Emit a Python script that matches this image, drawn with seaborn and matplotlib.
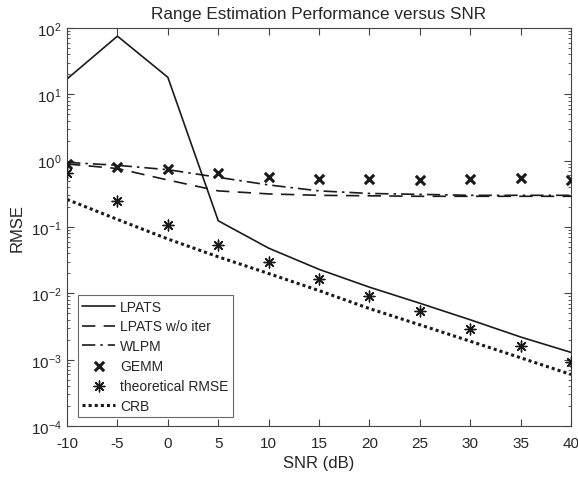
import numpy as np
import pandas as pd
import matplotlib
matplotlib.use("Agg")
import matplotlib.pyplot as plt
import seaborn as sns
from matplotlib.ticker import LogLocator, NullFormatter

# datos
snr = [-10, -5, 0, 5, 10, 15, 20, 25, 30, 35, 40]
lpats = [17, 75, 18, 0.124, 0.048, 0.023, 0.0124, 0.0071, 0.0040, 0.0022, 0.00129]
lpats_wo = [0.89, 0.76, 0.51, 0.35, 0.315, 0.30, 0.295, 0.29, 0.29, 0.29, 0.29]
wlpm = [0.94, 0.85, 0.73, 0.56, 0.43, 0.35, 0.32, 0.31, 0.30, 0.30, 0.30]
gemm = [0.89, 0.79, 0.76, 0.66, 0.57, 0.53, 0.53, 0.51, 0.53, 0.55, 0.51]
theo = [0.64, 0.25, 0.107, 0.054, 0.030, 0.0164, 0.0091, 0.0054, 0.0029, 0.0016, 0.00092]
crb = [0.26, 0.13, 0.066, 0.0355, 0.0199, 0.011, 0.0059, 0.00336, 0.0019, 0.00107, 0.0006]

df = pd.DataFrame({"snr": snr, "lpats": lpats, "lpats_wo": lpats_wo, "wlpm": wlpm,
                   "gemm": gemm, "theo": theo, "crb": crb})

sns.set_style("ticks")
plt.rcParams["font.family"] = ["Liberation Sans", "DejaVu Sans"]
plt.rcParams["axes.unicode_minus"] = False

fig = plt.figure(figsize=(5.78, 4.81), dpi=100)
ax = fig.add_axes([0.116, 0.112, 0.872, 0.828])

k = "#1a1a1a"
sns.lineplot(data=df, x="snr", y="lpats", color=k, lw=1.2, ax=ax, label="LPATS")
sns.lineplot(data=df, x="snr", y="lpats_wo", color=k, lw=1.2, ax=ax, label="LPATS w/o iter",
             linestyle=(0, (8, 5)))
sns.lineplot(data=df, x="snr", y="wlpm", color=k, lw=1.2, ax=ax, label="WLPM",
             linestyle=(0, (8, 3, 1.5, 3)))
sns.scatterplot(data=df, x="snr", y="gemm", color=k, marker="x", s=45, linewidth=2.2,
                ax=ax, label="GEMM", zorder=5)
sns.scatterplot(data=df, x="snr", y="theo", color=k, marker=(8, 2, 0), s=60, linewidth=1.0,
                ax=ax, label="theoretical RMSE", zorder=5)
sns.lineplot(data=df, x="snr", y="crb", color=k, lw=2.2, ax=ax, label="CRB",
             linestyle=(0, (1, 1)))

ax.set_yscale("log")
ax.set_xlim(-10, 40)
ax.set_ylim(1e-4, 1e2)
ax.set_xticks(range(-10, 41, 5))
ax.set_yticks([1e-4, 1e-3, 1e-2, 1e-1, 1e0, 1e1, 1e2])
ax.yaxis.set_minor_locator(LogLocator(base=10, subs=np.arange(2, 10)))
ax.yaxis.set_minor_formatter(NullFormatter())
ax.tick_params(which="both", direction="in", top=True, right=True, labelsize=11, color="#444444")
ax.tick_params(which="major", length=5)
ax.tick_params(which="minor", length=2.5)
ax.tick_params(axis="x", pad=7)
ax.tick_params(axis="y", pad=4)
for sp in ax.spines.values():
    sp.set_color("#444444")
    sp.set_linewidth(0.8)

ax.set_title("Range Estimation Performance versus SNR", fontsize=12.3, pad=7)
ax.set_xlabel("SNR (dB)", fontsize=12)
ax.set_ylabel("RMSE", fontsize=12)

leg = ax.legend(loc="lower left", bbox_to_anchor=(0.016, 0.016), fontsize=10, frameon=True,
                fancybox=False, edgecolor="#444444", handlelength=2.4, labelspacing=0.42,
                borderpad=0.3, handletextpad=0.35, borderaxespad=0.2)
leg.get_frame().set_linewidth(0.8)

fig.savefig("out.png", dpi=100)
